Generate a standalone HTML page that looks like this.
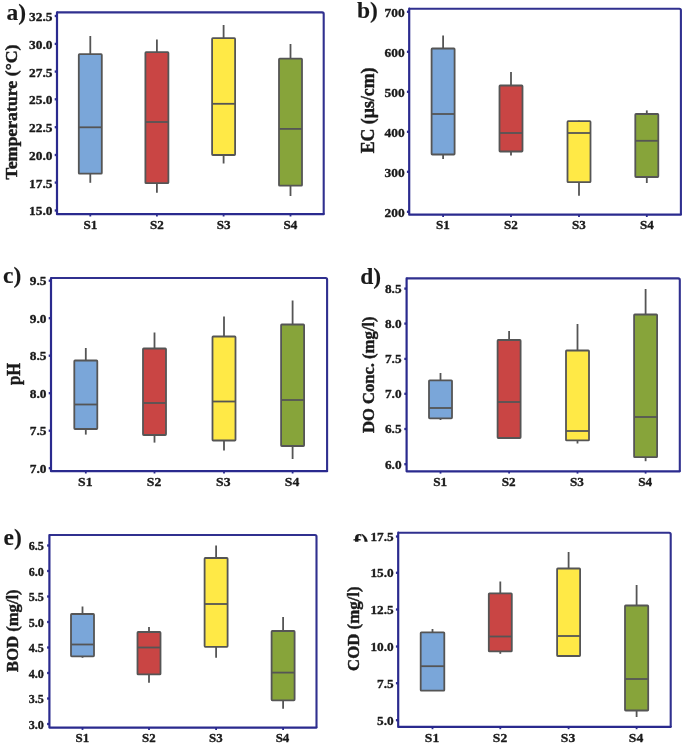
<!DOCTYPE html>
<html><head><meta charset="utf-8"><title>Boxplots</title>
<style>
html,body{margin:0;padding:0;background:#fff;}
body{width:685px;height:744px;overflow:hidden;font-family:"Liberation Serif",serif;}
svg{display:block;position:absolute;left:0;top:0;filter:blur(0.4px);}
text{font-family:"Liberation Serif",serif;font-weight:bold;fill:#1a1a1a;stroke:#1a1a1a;stroke-width:0.35px;stroke-linejoin:round;}
.tk{font-size:13.4px;}
.xk{font-size:12.6px;}
.ax{font-size:17.8px;stroke-width:0.45px;}
.tg{font-size:23.5px;stroke-width:0.12px;}
</style></head><body>
<svg width="685" height="744" viewBox="0 0 685 744">
<rect x="0" y="0" width="685" height="744" fill="#ffffff"/>
<g>
<line x1="90.30" y1="36.00" x2="90.30" y2="182.80" stroke="#555555" stroke-width="1.8"/>
<rect x="78.80" y="54.20" width="23.00" height="119.40" rx="0.7" fill="#7aa6d9" stroke="#555555" stroke-width="1.8"/>
<line x1="78.80" y1="127.30" x2="101.80" y2="127.30" stroke="#555555" stroke-width="1.8"/>
<line x1="156.90" y1="39.50" x2="156.90" y2="192.80" stroke="#555555" stroke-width="1.8"/>
<rect x="145.40" y="52.20" width="23.00" height="131.00" rx="0.7" fill="#c94544" stroke="#555555" stroke-width="1.8"/>
<line x1="145.40" y1="122.00" x2="168.40" y2="122.00" stroke="#555555" stroke-width="1.8"/>
<line x1="223.60" y1="25.00" x2="223.60" y2="163.50" stroke="#555555" stroke-width="1.8"/>
<rect x="212.10" y="38.20" width="23.00" height="116.80" rx="0.7" fill="#ffe946" stroke="#555555" stroke-width="1.8"/>
<line x1="212.10" y1="103.80" x2="235.10" y2="103.80" stroke="#555555" stroke-width="1.8"/>
<line x1="290.50" y1="44.00" x2="290.50" y2="196.00" stroke="#555555" stroke-width="1.8"/>
<rect x="279.00" y="58.70" width="23.00" height="126.90" rx="0.7" fill="#87a43a" stroke="#555555" stroke-width="1.8"/>
<line x1="279.00" y1="128.90" x2="302.00" y2="128.90" stroke="#555555" stroke-width="1.8"/>
<path d="M57.00 12.40 L322.20 12.40 Q323.70 12.40 323.70 13.90 L323.70 214.20" fill="none" stroke="#30308f" stroke-width="2.1" stroke-linejoin="round"/>
<path d="M57.00 12.40 L57.00 214.20 L323.70 214.20" fill="none" stroke="#2a2a8e" stroke-width="2.2" stroke-linejoin="round" stroke-linecap="round"/>
<line x1="54.70" y1="16.00" x2="57.00" y2="16.00" stroke="#2a2a8e" stroke-width="2.3"/>
<text class="tk" style="font-size:13.40px" transform="translate(52.50 20.93) scale(1 1.000)" text-anchor="end">32.5</text>
<line x1="54.70" y1="43.90" x2="57.00" y2="43.90" stroke="#2a2a8e" stroke-width="2.3"/>
<text class="tk" style="font-size:13.40px" transform="translate(52.50 48.83) scale(1 1.000)" text-anchor="end">30.0</text>
<line x1="54.70" y1="71.60" x2="57.00" y2="71.60" stroke="#2a2a8e" stroke-width="2.3"/>
<text class="tk" style="font-size:13.40px" transform="translate(52.50 76.53) scale(1 1.000)" text-anchor="end">27.5</text>
<line x1="54.70" y1="99.30" x2="57.00" y2="99.30" stroke="#2a2a8e" stroke-width="2.3"/>
<text class="tk" style="font-size:13.40px" transform="translate(52.50 104.23) scale(1 1.000)" text-anchor="end">25.0</text>
<line x1="54.70" y1="127.20" x2="57.00" y2="127.20" stroke="#2a2a8e" stroke-width="2.3"/>
<text class="tk" style="font-size:13.40px" transform="translate(52.50 132.13) scale(1 1.000)" text-anchor="end">22.5</text>
<line x1="54.70" y1="155.00" x2="57.00" y2="155.00" stroke="#2a2a8e" stroke-width="2.3"/>
<text class="tk" style="font-size:13.40px" transform="translate(52.50 159.93) scale(1 1.000)" text-anchor="end">20.0</text>
<line x1="54.70" y1="182.60" x2="57.00" y2="182.60" stroke="#2a2a8e" stroke-width="2.3"/>
<text class="tk" style="font-size:13.40px" transform="translate(52.50 187.53) scale(1 1.000)" text-anchor="end">17.5</text>
<line x1="54.70" y1="210.50" x2="57.00" y2="210.50" stroke="#2a2a8e" stroke-width="2.3"/>
<text class="tk" style="font-size:13.40px" transform="translate(52.50 215.43) scale(1 1.000)" text-anchor="end">15.0</text>
<line x1="90.30" y1="214.20" x2="90.30" y2="216.50" stroke="#2a2a8e" stroke-width="1.8"/>
<text class="xk" style="font-size:13.10px" transform="translate(90.30 228.63) scale(1 1.000)" text-anchor="middle">S1</text>
<line x1="156.90" y1="214.20" x2="156.90" y2="216.50" stroke="#2a2a8e" stroke-width="1.8"/>
<text class="xk" style="font-size:13.10px" transform="translate(157.00 228.63) scale(1 1.000)" text-anchor="middle">S2</text>
<line x1="223.60" y1="214.20" x2="223.60" y2="216.50" stroke="#2a2a8e" stroke-width="1.8"/>
<text class="xk" style="font-size:13.10px" transform="translate(223.60 228.63) scale(1 1.000)" text-anchor="middle">S3</text>
<line x1="290.50" y1="214.20" x2="290.50" y2="216.50" stroke="#2a2a8e" stroke-width="1.8"/>
<text class="xk" style="font-size:13.10px" transform="translate(290.50 228.63) scale(1 1.000)" text-anchor="middle">S4</text>
<text class="ax" style="font-size:17.27px" transform="translate(17.00 112.00) rotate(-90) scale(1.031 1)" text-anchor="middle">Temperature (°C)</text>
<text class="tg" x="6.50" y="20.20">a)</text>
</g>
<g>
<line x1="443.10" y1="35.50" x2="443.10" y2="159.00" stroke="#555555" stroke-width="1.8"/>
<rect x="431.60" y="48.50" width="23.00" height="106.00" rx="0.7" fill="#7aa6d9" stroke="#555555" stroke-width="1.8"/>
<line x1="431.60" y1="114.00" x2="454.60" y2="114.00" stroke="#555555" stroke-width="1.8"/>
<line x1="511.00" y1="72.00" x2="511.00" y2="155.50" stroke="#555555" stroke-width="1.8"/>
<rect x="499.50" y="85.50" width="23.00" height="66.00" rx="0.7" fill="#c94544" stroke="#555555" stroke-width="1.8"/>
<line x1="499.50" y1="133.00" x2="522.50" y2="133.00" stroke="#555555" stroke-width="1.8"/>
<line x1="579.00" y1="120.40" x2="579.00" y2="195.80" stroke="#555555" stroke-width="1.8"/>
<rect x="567.50" y="121.20" width="23.00" height="61.00" rx="0.7" fill="#ffe946" stroke="#555555" stroke-width="1.8"/>
<line x1="567.50" y1="133.00" x2="590.50" y2="133.00" stroke="#555555" stroke-width="1.8"/>
<line x1="646.80" y1="110.40" x2="646.80" y2="183.00" stroke="#555555" stroke-width="1.8"/>
<rect x="635.30" y="114.00" width="23.00" height="63.00" rx="0.7" fill="#87a43a" stroke="#555555" stroke-width="1.8"/>
<line x1="635.30" y1="140.80" x2="658.30" y2="140.80" stroke="#555555" stroke-width="1.8"/>
<path d="M409.20 8.70 L679.40 8.70 Q680.90 8.70 680.90 10.20 L680.90 214.70" fill="none" stroke="#30308f" stroke-width="2.1" stroke-linejoin="round"/>
<path d="M409.20 8.70 L409.20 214.70 L680.90 214.70" fill="none" stroke="#2a2a8e" stroke-width="2.2" stroke-linejoin="round" stroke-linecap="round"/>
<line x1="406.90" y1="11.80" x2="409.20" y2="11.80" stroke="#2a2a8e" stroke-width="2.3"/>
<text class="tk" style="font-size:13.40px" transform="translate(404.70 16.73) scale(1 1.000)" text-anchor="end">700</text>
<line x1="406.90" y1="51.80" x2="409.20" y2="51.80" stroke="#2a2a8e" stroke-width="2.3"/>
<text class="tk" style="font-size:13.40px" transform="translate(404.70 56.73) scale(1 1.000)" text-anchor="end">600</text>
<line x1="406.90" y1="91.80" x2="409.20" y2="91.80" stroke="#2a2a8e" stroke-width="2.3"/>
<text class="tk" style="font-size:13.40px" transform="translate(404.70 96.73) scale(1 1.000)" text-anchor="end">500</text>
<line x1="406.90" y1="131.80" x2="409.20" y2="131.80" stroke="#2a2a8e" stroke-width="2.3"/>
<text class="tk" style="font-size:13.40px" transform="translate(404.70 136.73) scale(1 1.000)" text-anchor="end">400</text>
<line x1="406.90" y1="171.80" x2="409.20" y2="171.80" stroke="#2a2a8e" stroke-width="2.3"/>
<text class="tk" style="font-size:13.40px" transform="translate(404.70 176.73) scale(1 1.000)" text-anchor="end">300</text>
<line x1="406.90" y1="211.80" x2="409.20" y2="211.80" stroke="#2a2a8e" stroke-width="2.3"/>
<text class="tk" style="font-size:13.40px" transform="translate(404.70 216.73) scale(1 1.000)" text-anchor="end">200</text>
<line x1="443.10" y1="214.70" x2="443.10" y2="217.00" stroke="#2a2a8e" stroke-width="1.8"/>
<text class="xk" style="font-size:13.10px" transform="translate(443.00 229.33) scale(1 1.000)" text-anchor="middle">S1</text>
<line x1="511.00" y1="214.70" x2="511.00" y2="217.00" stroke="#2a2a8e" stroke-width="1.8"/>
<text class="xk" style="font-size:13.10px" transform="translate(511.00 229.33) scale(1 1.000)" text-anchor="middle">S2</text>
<line x1="579.00" y1="214.70" x2="579.00" y2="217.00" stroke="#2a2a8e" stroke-width="1.8"/>
<text class="xk" style="font-size:13.10px" transform="translate(578.80 229.33) scale(1 1.000)" text-anchor="middle">S3</text>
<line x1="646.80" y1="214.70" x2="646.80" y2="217.00" stroke="#2a2a8e" stroke-width="1.8"/>
<text class="xk" style="font-size:13.10px" transform="translate(646.80 229.33) scale(1 1.000)" text-anchor="middle">S4</text>
<text class="ax" style="font-size:17.80px" transform="translate(373.90 110.40) rotate(-90) scale(1.000 1)" text-anchor="middle">EC (µs/cm)</text>
<text class="tg" x="357.00" y="17.70">b)</text>
</g>
<g>
<line x1="85.80" y1="348.00" x2="85.80" y2="434.60" stroke="#555555" stroke-width="1.8"/>
<rect x="74.30" y="360.50" width="23.00" height="68.50" rx="0.7" fill="#7aa6d9" stroke="#555555" stroke-width="1.8"/>
<line x1="74.30" y1="404.50" x2="97.30" y2="404.50" stroke="#555555" stroke-width="1.8"/>
<line x1="154.50" y1="332.50" x2="154.50" y2="442.60" stroke="#555555" stroke-width="1.8"/>
<rect x="143.00" y="348.50" width="23.00" height="86.50" rx="0.7" fill="#c94544" stroke="#555555" stroke-width="1.8"/>
<line x1="143.00" y1="403.00" x2="166.00" y2="403.00" stroke="#555555" stroke-width="1.8"/>
<line x1="224.00" y1="316.50" x2="224.00" y2="450.60" stroke="#555555" stroke-width="1.8"/>
<rect x="212.50" y="336.50" width="23.00" height="104.00" rx="0.7" fill="#ffe946" stroke="#555555" stroke-width="1.8"/>
<line x1="212.50" y1="401.50" x2="235.50" y2="401.50" stroke="#555555" stroke-width="1.8"/>
<line x1="292.60" y1="300.50" x2="292.60" y2="459.00" stroke="#555555" stroke-width="1.8"/>
<rect x="281.10" y="324.50" width="23.00" height="121.50" rx="0.7" fill="#87a43a" stroke="#555555" stroke-width="1.8"/>
<line x1="281.10" y1="400.00" x2="304.10" y2="400.00" stroke="#555555" stroke-width="1.8"/>
<path d="M51.00 278.00 L325.60 278.00 Q327.10 278.00 327.10 279.50 L327.10 471.20" fill="none" stroke="#30308f" stroke-width="2.1" stroke-linejoin="round"/>
<path d="M51.00 278.00 L51.00 471.20 L327.10 471.20" fill="none" stroke="#2a2a8e" stroke-width="2.2" stroke-linejoin="round" stroke-linecap="round"/>
<line x1="48.70" y1="280.70" x2="51.00" y2="280.70" stroke="#2a2a8e" stroke-width="2.3"/>
<text class="tk" style="font-size:13.40px" transform="translate(46.50 285.04) scale(1 0.870)" text-anchor="end">9.5</text>
<line x1="48.70" y1="318.20" x2="51.00" y2="318.20" stroke="#2a2a8e" stroke-width="2.3"/>
<text class="tk" style="font-size:13.40px" transform="translate(46.50 322.54) scale(1 0.870)" text-anchor="end">9.0</text>
<line x1="48.70" y1="355.70" x2="51.00" y2="355.70" stroke="#2a2a8e" stroke-width="2.3"/>
<text class="tk" style="font-size:13.40px" transform="translate(46.50 360.04) scale(1 0.870)" text-anchor="end">8.5</text>
<line x1="48.70" y1="393.20" x2="51.00" y2="393.20" stroke="#2a2a8e" stroke-width="2.3"/>
<text class="tk" style="font-size:13.40px" transform="translate(46.50 397.54) scale(1 0.870)" text-anchor="end">8.0</text>
<line x1="48.70" y1="430.70" x2="51.00" y2="430.70" stroke="#2a2a8e" stroke-width="2.3"/>
<text class="tk" style="font-size:13.40px" transform="translate(46.50 435.04) scale(1 0.870)" text-anchor="end">7.5</text>
<line x1="48.70" y1="468.20" x2="51.00" y2="468.20" stroke="#2a2a8e" stroke-width="2.3"/>
<text class="tk" style="font-size:13.40px" transform="translate(46.50 472.54) scale(1 0.870)" text-anchor="end">7.0</text>
<line x1="85.80" y1="471.20" x2="85.80" y2="473.50" stroke="#2a2a8e" stroke-width="1.8"/>
<text class="xk" style="font-size:13.70px" transform="translate(85.30 485.77) scale(1 0.880)" text-anchor="middle">S1</text>
<line x1="154.50" y1="471.20" x2="154.50" y2="473.50" stroke="#2a2a8e" stroke-width="1.8"/>
<text class="xk" style="font-size:13.70px" transform="translate(154.00 485.77) scale(1 0.880)" text-anchor="middle">S2</text>
<line x1="224.00" y1="471.20" x2="224.00" y2="473.50" stroke="#2a2a8e" stroke-width="1.8"/>
<text class="xk" style="font-size:13.70px" transform="translate(223.30 485.77) scale(1 0.880)" text-anchor="middle">S3</text>
<line x1="292.60" y1="471.20" x2="292.60" y2="473.50" stroke="#2a2a8e" stroke-width="1.8"/>
<text class="xk" style="font-size:13.70px" transform="translate(292.10 485.77) scale(1 0.880)" text-anchor="middle">S4</text>
<text class="ax" style="font-size:17.82px" transform="translate(19.50 374.00) rotate(-90) scale(0.926 1)" text-anchor="middle">pH</text>
<text class="tg" x="3.00" y="283.00">c)</text>
</g>
<g>
<line x1="440.50" y1="373.00" x2="440.50" y2="420.00" stroke="#555555" stroke-width="1.8"/>
<rect x="429.00" y="380.30" width="23.00" height="38.00" rx="0.7" fill="#7aa6d9" stroke="#555555" stroke-width="1.8"/>
<line x1="429.00" y1="408.00" x2="452.00" y2="408.00" stroke="#555555" stroke-width="1.8"/>
<line x1="509.10" y1="331.00" x2="509.10" y2="438.00" stroke="#555555" stroke-width="1.8"/>
<rect x="497.60" y="340.00" width="23.00" height="98.00" rx="0.7" fill="#c94544" stroke="#555555" stroke-width="1.8"/>
<line x1="497.60" y1="402.00" x2="520.60" y2="402.00" stroke="#555555" stroke-width="1.8"/>
<line x1="577.50" y1="324.00" x2="577.50" y2="443.50" stroke="#555555" stroke-width="1.8"/>
<rect x="566.00" y="350.50" width="23.00" height="89.90" rx="0.7" fill="#ffe946" stroke="#555555" stroke-width="1.8"/>
<line x1="566.00" y1="431.00" x2="589.00" y2="431.00" stroke="#555555" stroke-width="1.8"/>
<line x1="645.60" y1="289.00" x2="645.60" y2="461.20" stroke="#555555" stroke-width="1.8"/>
<rect x="634.10" y="314.50" width="23.00" height="142.60" rx="0.7" fill="#87a43a" stroke="#555555" stroke-width="1.8"/>
<line x1="634.10" y1="417.00" x2="657.10" y2="417.00" stroke="#555555" stroke-width="1.8"/>
<path d="M406.60 278.40 L678.30 278.40 Q679.80 278.40 679.80 279.90 L679.80 471.30" fill="none" stroke="#30308f" stroke-width="2.1" stroke-linejoin="round"/>
<path d="M406.60 278.40 L406.60 471.30 L679.80 471.30" fill="none" stroke="#2a2a8e" stroke-width="2.2" stroke-linejoin="round" stroke-linecap="round"/>
<line x1="404.30" y1="288.60" x2="406.60" y2="288.60" stroke="#2a2a8e" stroke-width="2.3"/>
<text class="tk" style="font-size:13.30px" transform="translate(401.60 292.91) scale(1 0.870)" text-anchor="end">8.5</text>
<line x1="404.30" y1="323.60" x2="406.60" y2="323.60" stroke="#2a2a8e" stroke-width="2.3"/>
<text class="tk" style="font-size:13.30px" transform="translate(401.60 327.91) scale(1 0.870)" text-anchor="end">8.0</text>
<line x1="404.30" y1="358.90" x2="406.60" y2="358.90" stroke="#2a2a8e" stroke-width="2.3"/>
<text class="tk" style="font-size:13.30px" transform="translate(401.60 363.21) scale(1 0.870)" text-anchor="end">7.5</text>
<line x1="404.30" y1="393.80" x2="406.60" y2="393.80" stroke="#2a2a8e" stroke-width="2.3"/>
<text class="tk" style="font-size:13.30px" transform="translate(401.60 398.11) scale(1 0.870)" text-anchor="end">7.0</text>
<line x1="404.30" y1="429.00" x2="406.60" y2="429.00" stroke="#2a2a8e" stroke-width="2.3"/>
<text class="tk" style="font-size:13.30px" transform="translate(401.60 433.31) scale(1 0.870)" text-anchor="end">6.5</text>
<line x1="404.30" y1="464.20" x2="406.60" y2="464.20" stroke="#2a2a8e" stroke-width="2.3"/>
<text class="tk" style="font-size:13.30px" transform="translate(401.60 468.51) scale(1 0.870)" text-anchor="end">6.0</text>
<line x1="440.50" y1="471.30" x2="440.50" y2="473.60" stroke="#2a2a8e" stroke-width="1.8"/>
<text class="xk" style="font-size:13.20px" transform="translate(440.20 485.92) scale(1 0.990)" text-anchor="middle">S1</text>
<line x1="509.10" y1="471.30" x2="509.10" y2="473.60" stroke="#2a2a8e" stroke-width="1.8"/>
<text class="xk" style="font-size:13.20px" transform="translate(508.60 485.92) scale(1 0.990)" text-anchor="middle">S2</text>
<line x1="577.50" y1="471.30" x2="577.50" y2="473.60" stroke="#2a2a8e" stroke-width="1.8"/>
<text class="xk" style="font-size:13.20px" transform="translate(577.00 485.92) scale(1 0.990)" text-anchor="middle">S3</text>
<line x1="645.60" y1="471.30" x2="645.60" y2="473.60" stroke="#2a2a8e" stroke-width="1.8"/>
<text class="xk" style="font-size:13.20px" transform="translate(645.10 485.92) scale(1 0.990)" text-anchor="middle">S4</text>
<text class="ax" style="font-size:17.43px" transform="translate(374.30 374.80) rotate(-90) scale(0.952 1)" text-anchor="middle">DO Conc. (mg/l)</text>
<text class="tg" x="360.30" y="284.00">d)</text>
</g>
<g>
<line x1="82.50" y1="606.50" x2="82.50" y2="657.80" stroke="#555555" stroke-width="1.8"/>
<rect x="71.00" y="614.00" width="23.00" height="42.30" rx="0.7" fill="#7aa6d9" stroke="#555555" stroke-width="1.8"/>
<line x1="71.00" y1="644.50" x2="94.00" y2="644.50" stroke="#555555" stroke-width="1.8"/>
<line x1="149.00" y1="627.00" x2="149.00" y2="682.80" stroke="#555555" stroke-width="1.8"/>
<rect x="137.50" y="632.00" width="23.00" height="42.40" rx="0.7" fill="#c94544" stroke="#555555" stroke-width="1.8"/>
<line x1="137.50" y1="647.50" x2="160.50" y2="647.50" stroke="#555555" stroke-width="1.8"/>
<line x1="216.10" y1="545.50" x2="216.10" y2="657.80" stroke="#555555" stroke-width="1.8"/>
<rect x="204.60" y="558.00" width="23.00" height="88.80" rx="0.7" fill="#ffe946" stroke="#555555" stroke-width="1.8"/>
<line x1="204.60" y1="604.00" x2="227.60" y2="604.00" stroke="#555555" stroke-width="1.8"/>
<line x1="283.10" y1="617.00" x2="283.10" y2="708.80" stroke="#555555" stroke-width="1.8"/>
<rect x="271.60" y="631.00" width="23.00" height="69.30" rx="0.7" fill="#87a43a" stroke="#555555" stroke-width="1.8"/>
<line x1="271.60" y1="672.60" x2="294.60" y2="672.60" stroke="#555555" stroke-width="1.8"/>
<path d="M49.40 535.00 L315.00 535.00 Q316.50 535.00 316.50 536.50 L316.50 727.60" fill="none" stroke="#30308f" stroke-width="2.1" stroke-linejoin="round"/>
<path d="M49.40 535.00 L49.40 727.60 L316.50 727.60" fill="none" stroke="#2a2a8e" stroke-width="2.2" stroke-linejoin="round" stroke-linecap="round"/>
<line x1="47.10" y1="545.50" x2="49.40" y2="545.50" stroke="#2a2a8e" stroke-width="2.3"/>
<text class="tk" style="font-size:12.10px" transform="translate(43.90 550.11) scale(1 1.030)" text-anchor="end">6.5</text>
<line x1="47.10" y1="571.00" x2="49.40" y2="571.00" stroke="#2a2a8e" stroke-width="2.3"/>
<text class="tk" style="font-size:12.10px" transform="translate(43.90 575.61) scale(1 1.030)" text-anchor="end">6.0</text>
<line x1="47.10" y1="596.50" x2="49.40" y2="596.50" stroke="#2a2a8e" stroke-width="2.3"/>
<text class="tk" style="font-size:12.10px" transform="translate(43.90 601.11) scale(1 1.030)" text-anchor="end">5.5</text>
<line x1="47.10" y1="622.00" x2="49.40" y2="622.00" stroke="#2a2a8e" stroke-width="2.3"/>
<text class="tk" style="font-size:12.10px" transform="translate(43.90 626.61) scale(1 1.030)" text-anchor="end">5.0</text>
<line x1="47.10" y1="647.50" x2="49.40" y2="647.50" stroke="#2a2a8e" stroke-width="2.3"/>
<text class="tk" style="font-size:12.10px" transform="translate(43.90 652.11) scale(1 1.030)" text-anchor="end">4.5</text>
<line x1="47.10" y1="673.00" x2="49.40" y2="673.00" stroke="#2a2a8e" stroke-width="2.3"/>
<text class="tk" style="font-size:12.10px" transform="translate(43.90 677.61) scale(1 1.030)" text-anchor="end">4.0</text>
<line x1="47.10" y1="698.50" x2="49.40" y2="698.50" stroke="#2a2a8e" stroke-width="2.3"/>
<text class="tk" style="font-size:12.10px" transform="translate(43.90 703.11) scale(1 1.030)" text-anchor="end">3.5</text>
<line x1="47.10" y1="724.00" x2="49.40" y2="724.00" stroke="#2a2a8e" stroke-width="2.3"/>
<text class="tk" style="font-size:12.10px" transform="translate(43.90 728.61) scale(1 1.030)" text-anchor="end">3.0</text>
<line x1="82.50" y1="727.60" x2="82.50" y2="729.90" stroke="#2a2a8e" stroke-width="1.8"/>
<text class="xk" style="font-size:12.90px" transform="translate(82.30 741.56) scale(1 1.000)" text-anchor="middle">S1</text>
<line x1="149.00" y1="727.60" x2="149.00" y2="729.90" stroke="#2a2a8e" stroke-width="1.8"/>
<text class="xk" style="font-size:12.90px" transform="translate(148.80 741.56) scale(1 1.000)" text-anchor="middle">S2</text>
<line x1="216.10" y1="727.60" x2="216.10" y2="729.90" stroke="#2a2a8e" stroke-width="1.8"/>
<text class="xk" style="font-size:12.90px" transform="translate(215.80 741.56) scale(1 1.000)" text-anchor="middle">S3</text>
<line x1="283.10" y1="727.60" x2="283.10" y2="729.90" stroke="#2a2a8e" stroke-width="1.8"/>
<text class="xk" style="font-size:12.90px" transform="translate(282.50 741.56) scale(1 1.000)" text-anchor="middle">S4</text>
<text class="ax" style="font-size:17.43px" transform="translate(18.00 630.70) rotate(-90) scale(0.952 1)" text-anchor="middle">BOD (mg/l)</text>
<text class="tg" x="3.50" y="545.00">e)</text>
</g>
<g>
<line x1="432.50" y1="629.00" x2="432.50" y2="690.60" stroke="#555555" stroke-width="1.8"/>
<rect x="420.70" y="632.40" width="23.60" height="58.20" rx="0.7" fill="#7aa6d9" stroke="#555555" stroke-width="1.8"/>
<line x1="420.70" y1="666.20" x2="444.30" y2="666.20" stroke="#555555" stroke-width="1.8"/>
<line x1="500.30" y1="581.50" x2="500.30" y2="653.80" stroke="#555555" stroke-width="1.8"/>
<rect x="488.80" y="593.40" width="23.00" height="58.00" rx="0.7" fill="#c94544" stroke="#555555" stroke-width="1.8"/>
<line x1="488.80" y1="636.50" x2="511.80" y2="636.50" stroke="#555555" stroke-width="1.8"/>
<line x1="568.60" y1="552.00" x2="568.60" y2="656.00" stroke="#555555" stroke-width="1.8"/>
<rect x="557.10" y="568.50" width="23.00" height="87.50" rx="0.7" fill="#ffe946" stroke="#555555" stroke-width="1.8"/>
<line x1="557.10" y1="636.00" x2="580.10" y2="636.00" stroke="#555555" stroke-width="1.8"/>
<line x1="636.60" y1="585.00" x2="636.60" y2="717.00" stroke="#555555" stroke-width="1.8"/>
<rect x="625.00" y="605.50" width="23.20" height="105.00" rx="0.7" fill="#87a43a" stroke="#555555" stroke-width="1.8"/>
<line x1="625.00" y1="679.00" x2="648.20" y2="679.00" stroke="#555555" stroke-width="1.8"/>
<path d="M398.20 532.70 L669.20 532.70 Q670.70 532.70 670.70 534.20 L670.70 726.90" fill="none" stroke="#30308f" stroke-width="2.1" stroke-linejoin="round"/>
<path d="M398.20 532.70 L398.20 726.90 L670.70 726.90" fill="none" stroke="#2a2a8e" stroke-width="2.2" stroke-linejoin="round" stroke-linecap="round"/>
<line x1="395.90" y1="536.50" x2="398.20" y2="536.50" stroke="#2a2a8e" stroke-width="2.3"/>
<text class="tk" style="font-size:13.30px" transform="translate(393.70 540.86) scale(1 0.880)" text-anchor="end">17.5</text>
<line x1="395.90" y1="572.80" x2="398.20" y2="572.80" stroke="#2a2a8e" stroke-width="2.3"/>
<text class="tk" style="font-size:13.30px" transform="translate(393.70 577.16) scale(1 0.880)" text-anchor="end">15.0</text>
<line x1="395.90" y1="609.50" x2="398.20" y2="609.50" stroke="#2a2a8e" stroke-width="2.3"/>
<text class="tk" style="font-size:13.30px" transform="translate(393.70 613.86) scale(1 0.880)" text-anchor="end">12.5</text>
<line x1="395.90" y1="646.50" x2="398.20" y2="646.50" stroke="#2a2a8e" stroke-width="2.3"/>
<text class="tk" style="font-size:13.30px" transform="translate(393.70 650.86) scale(1 0.880)" text-anchor="end">10.0</text>
<line x1="395.90" y1="683.20" x2="398.20" y2="683.20" stroke="#2a2a8e" stroke-width="2.3"/>
<text class="tk" style="font-size:13.30px" transform="translate(393.70 687.56) scale(1 0.880)" text-anchor="end">7.5</text>
<line x1="395.90" y1="720.20" x2="398.20" y2="720.20" stroke="#2a2a8e" stroke-width="2.3"/>
<text class="tk" style="font-size:13.30px" transform="translate(393.70 724.56) scale(1 0.880)" text-anchor="end">5.0</text>
<line x1="432.50" y1="726.90" x2="432.50" y2="729.20" stroke="#2a2a8e" stroke-width="1.8"/>
<text class="xk" style="font-size:13.60px" transform="translate(432.00 741.57) scale(1 0.950)" text-anchor="middle">S1</text>
<line x1="500.30" y1="726.90" x2="500.30" y2="729.20" stroke="#2a2a8e" stroke-width="1.8"/>
<text class="xk" style="font-size:13.60px" transform="translate(500.00 741.57) scale(1 0.950)" text-anchor="middle">S2</text>
<line x1="568.60" y1="726.90" x2="568.60" y2="729.20" stroke="#2a2a8e" stroke-width="1.8"/>
<text class="xk" style="font-size:13.60px" transform="translate(568.00 741.57) scale(1 0.950)" text-anchor="middle">S3</text>
<line x1="636.60" y1="726.90" x2="636.60" y2="729.20" stroke="#2a2a8e" stroke-width="1.8"/>
<text class="xk" style="font-size:13.60px" transform="translate(636.00 741.57) scale(1 0.950)" text-anchor="middle">S4</text>
<text class="ax" style="font-size:17.64px" transform="translate(359.40 628.70) rotate(-90) scale(0.952 1)" text-anchor="middle">COD (mg/l)</text>
</g>
<clipPath id="fclip"><rect x="340" y="525" width="40" height="16.8"/></clipPath>
<text class="tg" x="353.3" y="550.2" clip-path="url(#fclip)">f)</text>
</svg>
</body></html>
